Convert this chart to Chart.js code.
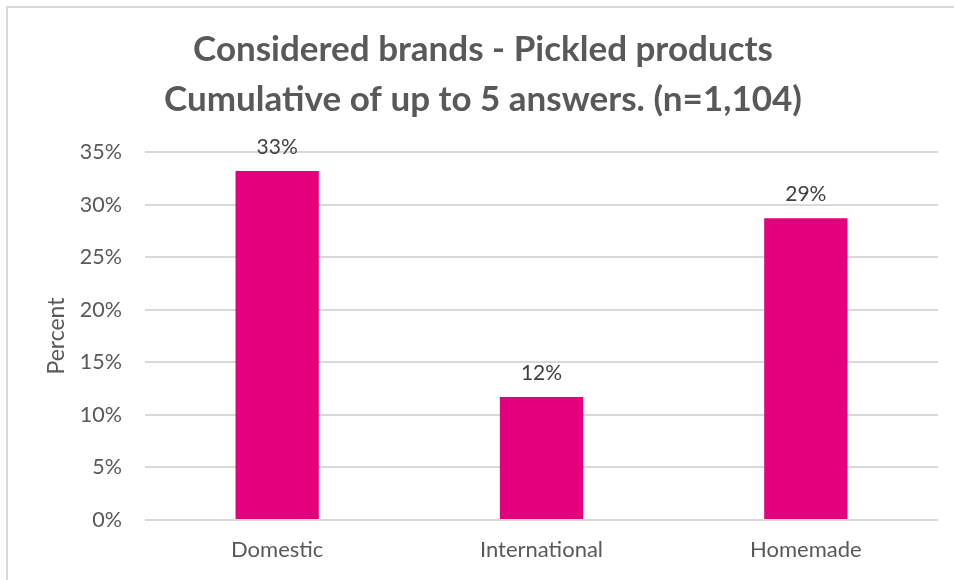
<!DOCTYPE html>
<html lang="en">
<head>
  <meta charset="UTF-8"/>
  <title>Considered brands – Pickled products</title>
  <script src="https://cdn.jsdelivr.net/npm/chart.js"></script>
  <style>
    html, body { margin: 0; padding: 0; background: #fff; overflow: hidden; }
    .frame {
      position: absolute;
      left: 6px;
      top: 6px;
      width: 960px;
      height: 600px;
      border-top: 2px solid #d9d9d9;
      border-left: 2px solid #d9d9d9;
    }
    canvas { position: absolute; left: 0; top: 0; }
  </style>
</head>
<body>
  <div class="frame"></div>
  <canvas id="brandChart" width="954" height="580"></canvas>
  <script>
    const categories = ["Domestic", "International", "Homemade"];
    const percentValues = [33.2, 11.7, 28.7];
    const yTicks = [0, 5, 10, 15, 20, 25, 30, 35];
    const titleLines = [
      "Considered brands - Pickled products",
      "Cumulative of up to 5 answers. (n=1,104)"
    ];

    const FONT = "Lato, 'Open Sans', sans-serif";
    const TEXT = "#595959";

    // two-line heading, centred on the frame rather than the plot
    const heading = {
      id: "heading",
      afterDraw(chart) {
        const ctx = chart.ctx;
        ctx.save();
        ctx.font = "bold 35px " + FONT;
        ctx.fillStyle = TEXT;
        ctx.textAlign = "center";
        ctx.textBaseline = "middle";
        titleLines.forEach((line, i) => ctx.fillText(line, 483, 50 + i * 50));
        ctx.restore();
      }
    };

    // value labels above each bar
    const barLabels = {
      id: "barLabels",
      afterDatasetsDraw(chart) {
        const ctx = chart.ctx;
        const meta = chart.getDatasetMeta(0);
        ctx.save();
        ctx.font = "21px " + FONT;
        ctx.fillStyle = "#404040";
        ctx.textAlign = "center";
        ctx.textBaseline = "alphabetic";
        meta.data.forEach((bar, i) => {
          ctx.fillText(Math.round(percentValues[i]) + "%", bar.x, bar.y - 17);
        });
        ctx.restore();
      }
    };

    new Chart(document.getElementById("brandChart"), {
      type: "bar",
      data: {
        labels: categories,
        datasets: [{
          data: percentValues,
          backgroundColor: "#e4007c",
          barPercentage: 1,
          categoryPercentage: 0.315
        }]
      },
      options: {
        responsive: false,
        animation: false,
        layout: { padding: { left: 0, right: 16, top: 152, bottom: 0 } },
        plugins: {
          legend: { display: false },
          tooltip: { enabled: false },
          title: { display: false }
        },
        scales: {
          x: {
            grid: { display: false, drawTicks: false },
            border: { display: false },
            ticks: { color: TEXT, font: { family: FONT, size: 22 }, padding: 17 },
            afterFit(scale) { scale.height = 60; }
          },
          y: {
            min: 0,
            max: 35,
            afterBuildTicks(scale) {
              scale.ticks = yTicks.map(v => ({ value: v }));
            },
            grid: { color: "#d9d9d9", lineWidth: 2, drawTicks: false },
            border: { display: false },
            ticks: {
              color: TEXT,
              font: { family: FONT, size: 21.5 },
              padding: 23,
              callback: v => v + "%"
            },
            title: {
              display: true,
              text: "Percent",
              color: TEXT,
              font: { family: FONT, size: 23 },
              padding: { top: 43, bottom: 0 }
            },
            afterFit(scale) { scale.width = 145; }
          }
        }
      },
      plugins: [barLabels, heading]
    });
  </script>
</body>
</html>
